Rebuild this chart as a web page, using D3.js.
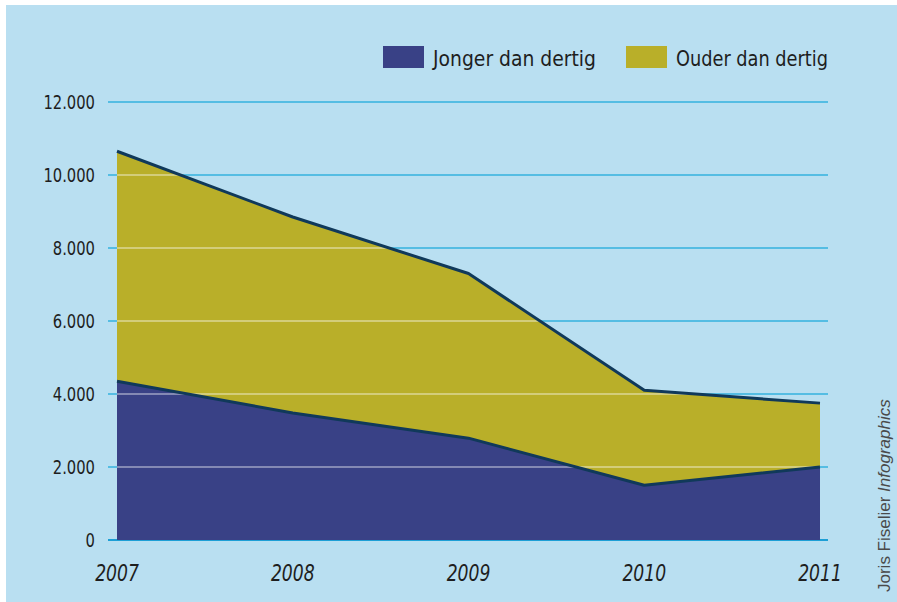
<!DOCTYPE html>
<html><head><meta charset="utf-8">
<script src="https://cdn.jsdelivr.net/npm/d3@7"></script>
<style>
html,body{margin:0;padding:0;background:#fff;}
svg{display:block;}
.narrow{font-family:"Liberation Sans Narrow","Arial Narrow","DejaVu Sans Condensed",sans-serif;font-stretch:condensed;}
</style></head>
<body>
<script>
const years = [2007, 2008, 2009, 2010, 2011];
const jonger = [4350, 3480, 2790, 1500, 2000];
const ouder = [6300, 5370, 4510, 2600, 1750];
const yTicks = [0, 2000, 4000, 6000, 8000, 10000, 12000];
const seriesNames = ["Jonger dan dertig", "Ouder dan dertig"];
const seriesColors = ["#394186", "#b9af29"];

const W = 897, H = 602;
const svg = d3.select("body").append("svg").attr("width", W).attr("height", H);
svg.append("rect").attr("x", 6).attr("y", 5).attr("width", W - 6).attr("height", H - 5).attr("fill", "#b9dff1");

const x = d3.scalePoint().domain(years).range([117, 820]);
const y = d3.scaleLinear().domain([0, 12000]).range([540, 102]);

const rows = years.map((yr, i) => ({year: yr, j: jonger[i], o: ouder[i]}));
const stack = d3.stack().keys(["j", "o"]);
const stacked = stack(rows);

const fmt = v => d3.format(",")(v).replace(/,/g, ".");

function squeeze(sel, f) {
  sel.each(function() {
    const len = this.getComputedTextLength();
    d3.select(this).attr("textLength", len * f).attr("lengthAdjust", "spacingAndGlyphs");
  });
}

// gridlines behind
const grid = svg.append("g");
grid.selectAll("line").data(yTicks).join("line")
  .attr("x1", 108).attr("x2", 828)
  .attr("y1", d => y(d)).attr("y2", d => y(d))
  .attr("stroke", d => d === 0 ? "#1d9fd6" : "#55bde3")
  .attr("stroke-width", 2);

// areas
const totalArea = d3.area().x(d => x(d.data.year)).y0(y(0)).y1(d => y(d[1]));
svg.append("path").datum(stacked[1]).attr("d", totalArea).attr("fill", seriesColors[1]);
svg.append("path").datum(stacked[0]).attr("d", totalArea).attr("fill", seriesColors[0]);

// pale gridlines over the areas
svg.append("clipPath").attr("id", "clipArea").append("path").datum(stacked[1]).attr("d", totalArea);
svg.append("g").attr("clip-path", "url(#clipArea)")
  .selectAll("line").data(yTicks.filter(d => d > 0)).join("line")
  .attr("x1", 108).attr("x2", 828)
  .attr("y1", d => y(d)).attr("y2", d => y(d))
  .attr("stroke", "rgba(255,255,255,0.38)")
  .attr("stroke-width", 2);

// top lines
const line = d3.line().x(d => x(d.data.year)).y(d => y(d[1]));
stacked.forEach(s => {
  svg.append("path").datum(s).attr("d", line)
    .attr("fill", "none").attr("stroke", "#10395a").attr("stroke-width", 3).attr("stroke-linejoin", "round");
});

// y axis labels
const yl = svg.append("g").selectAll("text").data(yTicks).join("text")
  .attr("class", "narrow")
  .attr("x", 95).attr("y", d => y(d) + 7)
  .attr("text-anchor", "end")
  .attr("font-size", 20).attr("fill", "#1e1e1e")
  .text(fmt);
squeeze(yl, 0.82);

// x axis labels
const xl = svg.append("g").selectAll("text").data(years).join("text")
  .attr("class", "narrow")
  .attr("x", d => x(d)).attr("y", 581)
  .attr("text-anchor", "middle")
  .attr("font-size", 23).attr("font-style", "italic").attr("fill", "#1e1e1e")
  .text(d => d);
squeeze(xl, 0.83);

// legend
const legX = [383, 626];
const legW = [163, 152];
const leg = svg.append("g");
seriesNames.forEach((n, i) => {
  leg.append("rect").attr("x", legX[i]).attr("y", 46).attr("width", 41).attr("height", 22).attr("fill", seriesColors[i]);
  leg.append("text").attr("class", "narrow").attr("x", legX[i] + 50).attr("y", 66)
    .attr("font-size", 21).attr("fill", "#1e1e1e")
    .attr("textLength", legW[i]).attr("lengthAdjust", "spacingAndGlyphs").text(n);
});

// credit
const credit = svg.append("text")
  .attr("transform", "translate(890,592) rotate(-90)")
  .attr("font-family", "'Liberation Sans', Arial, sans-serif")
  .attr("font-size", 17).attr("fill", "#4a4a4a");
credit.append("tspan").text("Joris Fiselier ");
credit.append("tspan").attr("font-style", "italic").text("Infographics");
</script>
</body></html>
